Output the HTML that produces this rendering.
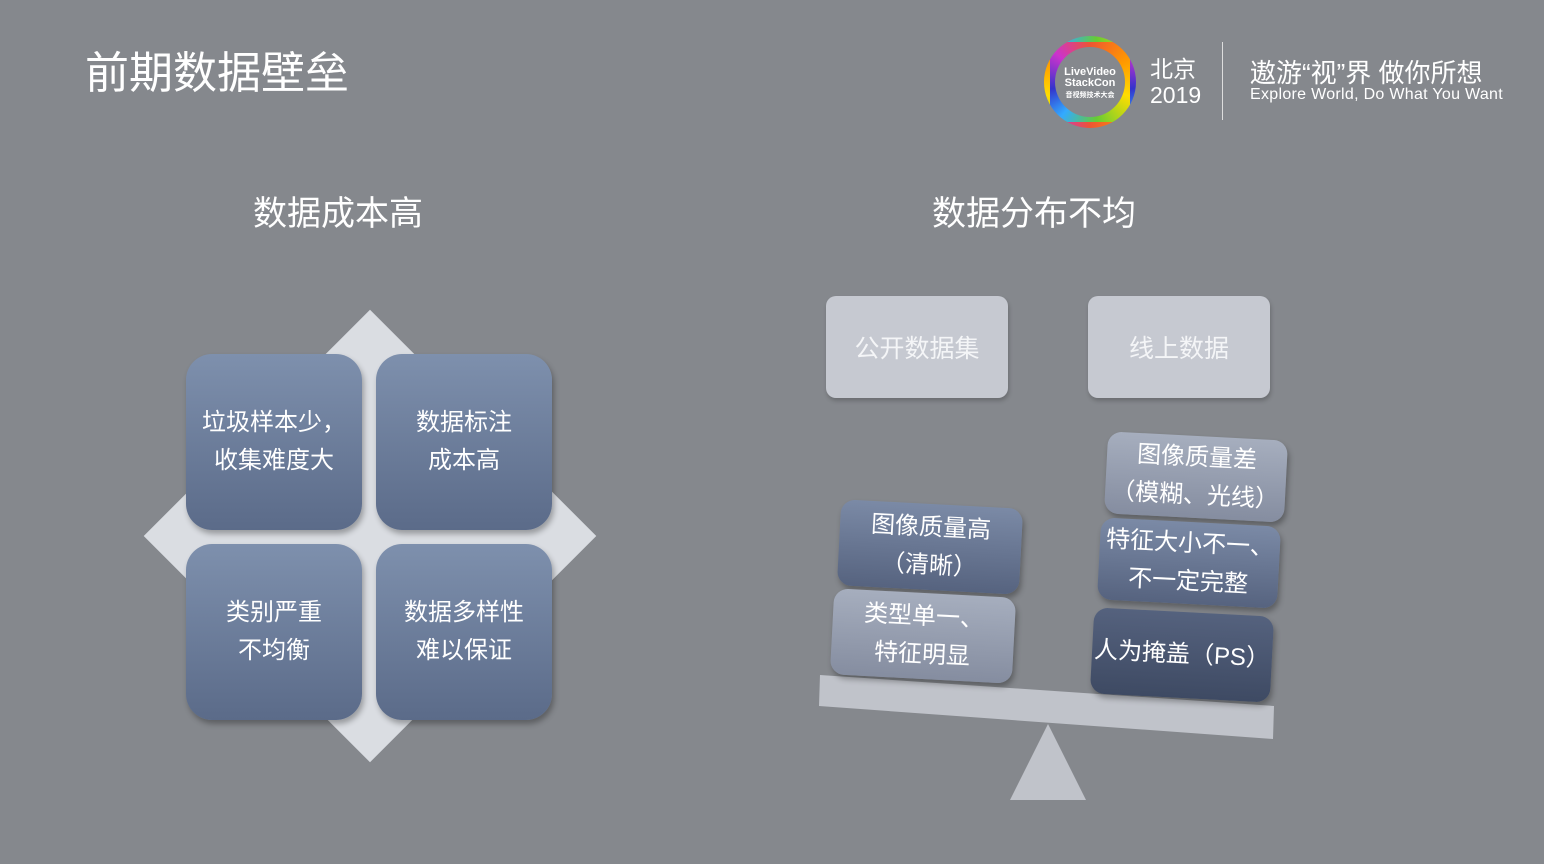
<!DOCTYPE html>
<html><head><meta charset="utf-8"><style>
body{margin:0;width:1544px;height:864px;overflow:hidden;background:#85888d;font-family:"Liberation Sans","Noto Sans CJK SC",sans-serif;position:relative;color:#fff}
.a{position:absolute}
.sq{position:absolute;width:176px;height:176px;border-radius:26px;background:linear-gradient(#7e90ad,#5b6b89);box-shadow:2px 4px 6px rgba(0,0,0,.3);display:flex;align-items:center;justify-content:center;text-align:center;font-size:24px;line-height:38px}
.tb{position:absolute;border-radius:10px;background:#c6c9d1;color:#f4f5f7;display:flex;align-items:center;justify-content:center;font-size:25px;box-shadow:1px 3px 4px rgba(0,0,0,.2)}
.rb{position:absolute;border-radius:14px;display:flex;align-items:center;justify-content:center;text-align:center;font-size:24px;line-height:38px;transform:rotate(3deg);box-shadow:2px 4px 6px rgba(0,0,0,.3)}
.mid{background:linear-gradient(#7b8aa6,#56637f)}
.lt{background:linear-gradient(#a6aebe,#858da0)}
.dk{background:linear-gradient(#55627e,#3e4a63)}
</style></head><body>
<div class="a" style="left:85px;top:37px;font-size:44px">前期数据壁垒</div>
<div class="a" style="left:1044px;top:36px;width:80px;height:80px;border-radius:50%;border:6px solid transparent;background:conic-gradient(#e53 0,#f90 60deg,#fd0 110deg,#6c3 170deg,#3af 220deg,#33c 260deg,#c3c 310deg,#e53 360deg);"></div>
<div class="a" style="left:1055px;top:47px;width:70px;height:70px;border-radius:50%;background:#85888d;font-size:11px;font-weight:bold;text-align:center;line-height:11px;padding-top:20px;box-sizing:border-box">LiveVideo<br>StackCon<br><span style="font-size:7px">音视频技术大会</span></div>
<div class="a" style="left:1150px;top:56px;font-size:23px;line-height:26px">北京<br>2019</div>
<div class="a" style="left:1222px;top:42px;width:1px;height:78px;background:#ddd"></div>
<div class="a" style="left:1250px;top:53px;font-size:26px">遨游“视”界 做你所想</div>
<div class="a" style="left:1250px;top:86px;font-size:16px;letter-spacing:0.3px">Explore World, Do What You Want</div>
<div class="a" style="left:253px;top:186px;font-size:34px">数据成本高</div>
<div class="a" style="left:932px;top:186px;font-size:34px">数据分布不均</div>
<div class="a" style="left:210px;top:376px;width:320px;height:320px;background:#dadde2;transform:rotate(45deg)"></div>
<div class="sq" style="left:186px;top:354px">垃圾样本少，<br>收集难度大</div>
<div class="sq" style="left:376px;top:354px">数据标注<br>成本高</div>
<div class="sq" style="left:186px;top:544px">类别严重<br>不均衡</div>
<div class="sq" style="left:376px;top:544px">数据多样性<br>难以保证</div>
<div class="tb" style="left:826px;top:296px;width:182px;height:102px">公开数据集</div>
<div class="tb" style="left:1088px;top:296px;width:182px;height:102px">线上数据</div>
<svg class="a" style="left:0;top:0" width="1544" height="864"><polygon points="820,675 1274,706 1273,739 819,706" fill="#c0c3ca"/><polygon points="1048,724 1010,800 1086,800" fill="#c0c3ca"/></svg>
<div class="rb mid" style="left:839px;top:504px;width:182px;height:86px">图像质量高<br>（清晰）</div>
<div class="rb lt" style="left:832px;top:593px;width:182px;height:86px">类型单一、<br>特征明显</div>
<div class="rb lt" style="left:1106px;top:436px;width:180px;height:82px">图像质量差<br>（模糊、光线）</div>
<div class="rb mid" style="left:1099px;top:522px;width:180px;height:82px">特征大小不一、<br>不一定完整</div>
<div class="rb dk" style="left:1092px;top:612px;width:180px;height:86px">人为掩盖（PS）</div>
</body></html>
